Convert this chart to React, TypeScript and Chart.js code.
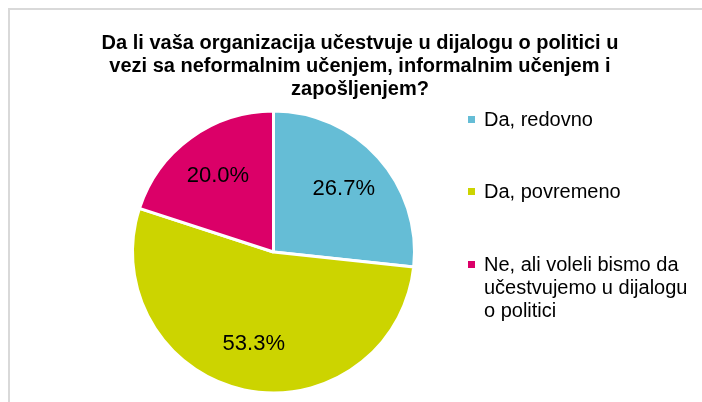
import React, { useEffect, useRef } from "react";
import { Chart, registerables } from "chart.js";

Chart.register(...registerables);

const titleLines = [
  "Da li vaša organizacija učestvuje u dijalogu o politici u",
  "vezi sa neformalnim učenjem, informalnim učenjem i",
  "zapošljenjem?",
];
const categories = [
  ["Da, redovno"],
  ["Da, povremeno"],
  ["Ne, ali voleli bismo da", "učestvujemo u dijalogu", "o politici"],
];
const values = [26.7, 53.3, 20.0];
const colors = ["#65BDD6", "#CCD400", "#DB0068"];

const decorPlugin = {
  id: "decor",
  beforeDraw(chart: any) {
    const ctx = chart.ctx;
    ctx.save();
    ctx.fillStyle = "#ffffff";
    ctx.fillRect(0, 0, chart.width, chart.height);
    ctx.fillStyle = "#d9d9d9";
    ctx.fillRect(8, 8, chart.width - 8, 2);
    ctx.fillRect(8, 8, 2, chart.height - 8);
    ctx.restore();
  },
  afterDraw(chart: any) {
    const ctx = chart.ctx;
    ctx.save();
    // title
    ctx.fillStyle = "#000000";
    ctx.font = "bold 20px 'Liberation Sans', Arial, sans-serif";
    ctx.textAlign = "center";
    ctx.textBaseline = "middle";
    titleLines.forEach((t, i) => ctx.fillText(t, 360, 43 + i * 23));
    // legend
    ctx.font = "20px 'Liberation Sans', Arial, sans-serif";
    ctx.textAlign = "left";
    const starts = [120, 192, 265];
    categories.forEach((lines, i) => {
      const y0 = starts[i];
      ctx.fillStyle = colors[i];
      ctx.fillRect(468, y0 - 4, 7, 7);
      ctx.fillStyle = "#000000";
      lines.forEach((l, j) => ctx.fillText(l, 484, y0 + j * 23));
    });
    // data labels
    const meta = chart.getDatasetMeta(0);
    ctx.font = "22px 'Liberation Sans', Arial, sans-serif";
    ctx.textAlign = "center";
    meta.data.forEach((arc: any, i: number) => {
      const p = arc.getProps(["x", "y", "startAngle", "endAngle", "outerRadius"], true);
      const mid = (p.startAngle + p.endAngle) / 2;
      const r = p.outerRadius * 0.67;
      ctx.fillText(values[i].toFixed(1) + "%", p.x + Math.cos(mid) * r, p.y + Math.sin(mid) * r);
    });
    ctx.restore();
  },
};

export default function App() {
  const ref = useRef<HTMLCanvasElement>(null);
  useEffect(() => {
    document.body.style.margin = "0";
    const chart = new Chart(ref.current!, {
      type: "pie",
      data: {
        labels: categories.map((c) => c.join(" ")),
        datasets: [
          {
            data: values,
            backgroundColor: colors,
            borderColor: "#ffffff",
            borderWidth: 3,
          },
        ],
      },
      options: {
        animation: false,
        responsive: false,
        layout: { padding: { left: 131, right: 286, top: 109, bottom: 7 } },
        plugins: {
          legend: { display: false },
          title: { display: false },
          tooltip: { enabled: false },
        },
      },
      plugins: [decorPlugin],
    });
    return () => chart.destroy();
  }, []);
  return (
    <div style={{ position: "absolute", left: 0, top: 0, width: 702, height: 402 }}>
      <canvas ref={ref} width={702} height={402} style={{ width: 702, height: 402 }} />
    </div>
  );
}
